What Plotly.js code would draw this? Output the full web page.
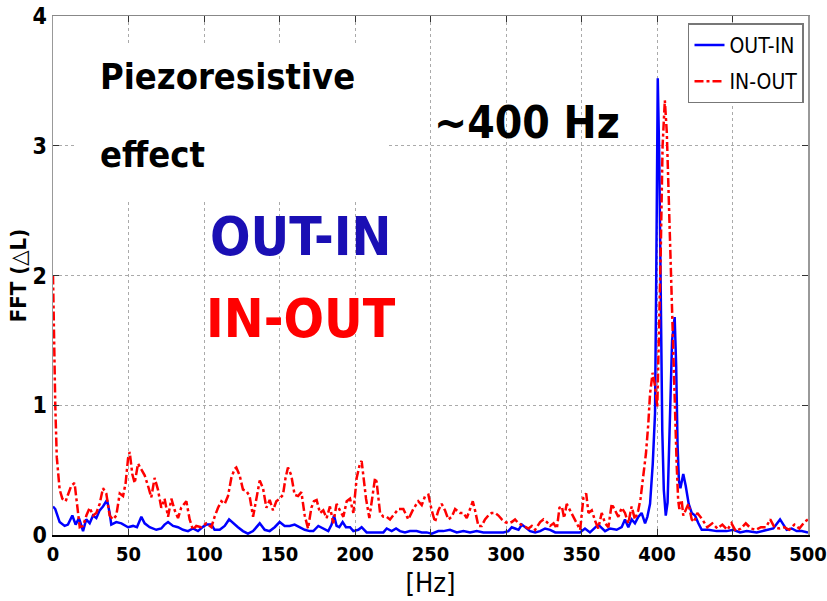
<!DOCTYPE html>
<html>
<head>
<meta charset="utf-8">
<script src="https://cdn.plot.ly/plotly-3.0.1.min.js"></script>
<style>html,body{margin:0;padding:0;background:#fff;}#chart{width:827px;height:601px;}</style>
</head>
<body>
<div id="chart"></div>
<script>
// OUT-IN series (blue solid)
var outInHz = [0,1.5,4.4,7.7,9.9,12.8,15,17.2,19.9,22,24.3,26.5,28.7,30.9,33.1,35.8,37.5,38.6,41.9,45.3,49.7,53,55.6,58.5,60.7,64,68.4,71.7,73.9,76.2,79.5,82.8,86.1,89.4,92.7,96,98.9,101.5,104.9,107,110.4,113.7,116.6,119.2,122.5,125.8,129.1,132.5,136.9,140.2,143.5,146.8,150.1,153.4,156.7,160,163.4,166.7,170,172.4,175.7,179,182.3,184.5,186.1,187.8,189.6,191.8,194,196.7,198.9,202.2,204.4,207.7,212.1,216.6,218.8,221,224.3,227.2,229.8,233.1,236.4,240.8,244.2,247.5,250.8,255.2,258.5,262.9,267.4,271.8,276.2,280.6,285,289.4,293.8,298.3,301.6,303.8,306,308.3,310.5,312.7,316,319.3,322.6,325.9,329.2,332.6,335.9,340.3,344.7,349,352.3,355.6,361.1,365.6,368.9,373.3,376.6,378.8,381,383.2,385.4,387.6,389.8,392.1,393.6,395.4,397.2,398.7,399.5,400.5,401.5,402.5,403.5,404.5,405.8,407,408.5,410,411.7,412.7,413.6,414.5,415.5,417.4,419,421,423,425.2,427.4,429.6,434,439.5,446.1,450.6,455,459.4,466,472.6,477,481.5,483.7,485.9,489.2,492.5,495.8,500];
var outInVal = [0.22,0.20,0.10,0.07,0.08,0.15,0.08,0.13,0.03,0.12,0.09,0.15,0.13,0.19,0.22,0.27,0.17,0.08,0.10,0.09,0.06,0.07,0.06,0.14,0.09,0.06,0.04,0.05,0.08,0.10,0.07,0.06,0.04,0.03,0.05,0.03,0.06,0.08,0.08,0.04,0.04,0.07,0.12,0.09,0.06,0.03,0.01,0.03,0.09,0.04,0.03,0.06,0.10,0.07,0.07,0.08,0.06,0.04,0.03,0.03,0.07,0.05,0.03,0.08,0.15,0.07,0.06,0.10,0.06,0.06,0.03,0.04,0.06,0.02,0.02,0.02,0.02,0.05,0.03,0.05,0.03,0.02,0.03,0.03,0.02,0.02,0.01,0.03,0.03,0.04,0.02,0.03,0.02,0.03,0.02,0.02,0.02,0.02,0.03,0.06,0.05,0.04,0.08,0.06,0.03,0.02,0.03,0.05,0.04,0.02,0.02,0.02,0.02,0.02,0.05,0.02,0.08,0.03,0.05,0.04,0.06,0.12,0.06,0.12,0.09,0.14,0.17,0.09,0.14,0.24,0.55,0.94,2.0,3.52,2.9,1.6,0.8,0.35,0.15,0.25,0.9,1.5,1.68,1.3,0.7,0.42,0.36,0.47,0.38,0.24,0.17,0.15,0.09,0.04,0.04,0.03,0.03,0.04,0.02,0.03,0.02,0.04,0.05,0.12,0.08,0.04,0.05,0.03,0.03,0.02];

// IN-OUT series (red dash-dot)
var inOutHz = [0,0.7,1.5,2.5,4.4,6.2,8.4,9.9,12.1,14.3,15.9,17.7,19.9,22.1,24.3,26.5,28.7,30.9,33.1,35.3,37.5,39.7,41.9,44.2,46.4,48.1,49.7,50.8,52.5,54.1,56.3,58.5,60.7,62.9,65.1,67.3,69.5,71.7,73.9,76.2,78.4,80.6,82.8,84.9,88.3,90.5,92.7,94.9,98.2,101.5,104.9,107,109.3,111.5,113.7,115.9,118.1,120.3,121.4,123.6,125.8,128,130.2,132.5,134.7,136.9,139.1,141.3,143.5,145.7,147.9,150.1,152.3,154,155.6,157.8,160,162.3,164.5,166.7,168.9,171.1,172.8,174.6,176.8,179,181.2,183.4,185.6,187.8,190,192.3,194.5,196.7,198.9,201.1,203.3,204.4,205.5,207.3,209.5,211.1,213.3,214.3,216.6,218.8,221,223.2,225.4,228.7,232,235.3,238.6,241.9,244.2,246.4,248.6,250.8,253,255.2,257.4,259.6,261.8,264.1,266.3,269.6,271.8,274,276.2,278,279.5,281.7,283.9,286.1,288.3,290.5,292.8,295,297.2,299.4,301.6,303.8,306,308.3,311.6,314.9,317.1,319.3,322.6,324.8,327,329.2,331.5,333.7,335.4,337,338.5,340.2,342.4,344.7,346.9,349.1,351.3,353.1,354.6,356.8,359,361.1,363.4,365.6,367.8,370,372.2,374.4,376.6,378.8,381,383.2,385.4,387.6,389.1,390.9,392.7,394.2,395.4,397.1,398.7,400.2,401.5,402.5,403.7,405.2,406.5,407.8,409.2,410.5,412,413,414,414.8,416.3,417.4,420.8,423,424.5,426.7,430,433.3,436.6,440,443.3,446.6,449.3,452.2,455.5,458.8,462.2,465.5,468.8,472.2,475,477.7,481,484.3,487.6,491,494.3,497.6,500];
var inOutVal = [2.0,1.5,1.0,0.6,0.35,0.28,0.26,0.31,0.38,0.40,0.26,0.06,0.07,0.15,0.21,0.15,0.17,0.24,0.36,0.32,0.15,0.12,0.15,0.32,0.30,0.40,0.59,0.64,0.47,0.40,0.55,0.51,0.46,0.38,0.29,0.44,0.35,0.21,0.28,0.14,0.28,0.19,0.13,0.21,0.26,0.12,0.04,0.07,0.06,0.09,0.06,0.14,0.21,0.26,0.24,0.30,0.44,0.51,0.52,0.46,0.35,0.34,0.30,0.14,0.27,0.42,0.36,0.21,0.27,0.19,0.26,0.28,0.31,0.44,0.52,0.46,0.31,0.30,0.33,0.15,0.05,0.21,0.26,0.27,0.17,0.19,0.13,0.22,0.09,0.24,0.19,0.14,0.26,0.28,0.17,0.44,0.55,0.57,0.46,0.28,0.13,0.28,0.44,0.41,0.17,0.14,0.14,0.12,0.15,0.20,0.20,0.12,0.20,0.26,0.23,0.30,0.31,0.19,0.10,0.19,0.24,0.19,0.12,0.14,0.20,0.17,0.17,0.13,0.20,0.26,0.19,0.07,0.07,0.12,0.15,0.17,0.17,0.15,0.12,0.10,0.09,0.10,0.12,0.09,0.07,0.05,0.07,0.04,0.10,0.12,0.10,0.07,0.09,0.05,0.21,0.22,0.13,0.24,0.19,0.14,0.09,0.04,0.29,0.32,0.17,0.19,0.11,0.05,0.17,0.09,0.06,0.24,0.19,0.14,0.21,0.17,0.09,0.22,0.12,0.19,0.28,0.45,0.63,0.85,1.09,1.25,1.15,0.99,1.6,2.2,3.0,3.35,3.1,2.6,2.0,1.4,0.95,0.55,0.27,0.2,0.27,0.15,0.24,0.12,0.10,0.17,0.12,0.06,0.09,0.05,0.08,0.04,0.09,0.03,0.05,0.09,0.05,0.04,0.06,0.06,0.12,0.06,0.05,0.06,0.04,0.08,0.05,0.10,0.12];

var seriesNames = ['OUT-IN', 'IN-OUT'];
var xTicks = [0,50,100,150,200,250,300,350,400,450,500];
var yTicks = [0,1,2,3,4];
var xLabel = '[Hz]';
var yLabel = 'FFT (\u25B3L)';

var narrow = 'Liberation Sans Narrow, DejaVu Sans Condensed, sans-serif';
var xTickFont = {family: narrow, size: 20, color: '#000', weight: 'bold'};
var yTickFont = {family: narrow, size: 23, color: '#000', weight: 'bold'};
var bigFont = 'DejaVu Sans Condensed, DejaVu Sans, sans-serif';

var traces = [
  {x: outInHz, y: outInVal, name: seriesNames[0], legendgroup: 'a', type: 'scatter', mode: 'lines',
   line: {color: '#0000ff', width: 2.5}},
  {x: inOutHz, y: inOutVal, name: seriesNames[1], legendgroup: 'b', type: 'scatter', mode: 'lines',
   line: {color: '#ff0000', width: 2.5, dash: 'dashdot'}},
  {x: [0, 500], y: [null, null], xaxis: 'x2', showlegend: false, hoverinfo: 'skip', mode: 'lines'}
];

var layout = {
  width: 827, height: 601,
  margin: {l: 53, r: 19, t: 16, b: 66, autoexpand: false},
  paper_bgcolor: '#fff', plot_bgcolor: '#fff',
  showlegend: true,
  legend: {x: 0.9947, y: 0.986, xanchor: 'right', yanchor: 'top', bgcolor: '#fff',
           bordercolor: '#777', borderwidth: 1.5, tracegroupgap: 6, traceorder: 'grouped',
           itemwidth: 30,
           font: {family: narrow, size: 21, color: '#000'}},
  xaxis: {range: [0, 500], tickvals: xTicks, ticktext: xTicks.map(String), ticks: 'inside', ticklen: 6,
          tickcolor: '#333', showline: true, linecolor: '#000', linewidth: 2, mirror: false,
          showgrid: true, gridcolor: '#aaa', griddash: 'dot', gridwidth: 1, zeroline: false,
          automargin: true, ticklabeloverflow: 'allow', tickfont: xTickFont,
          title: {text: xLabel, font: {family: narrow, size: 27, color: '#000'}, standoff: 8}},
  xaxis2: {range: [0, 500], overlaying: 'x', side: 'top', tickvals: xTicks, ticks: 'inside', ticklen: 6,
           tickcolor: '#333', showticklabels: false, showline: true, linecolor: '#888', linewidth: 1.5,
           showgrid: false, zeroline: false, automargin: false},
  yaxis: {range: [0, 4], tickvals: yTicks, ticktext: yTicks.map(String), ticks: 'inside', ticklen: 6,
          tickcolor: '#333', showline: true, linecolor: '#999', linewidth: 1.5, mirror: 'ticks',
          showgrid: true, gridcolor: '#aaa', griddash: 'dot', gridwidth: 1, zeroline: false,
          automargin: true, ticklabeloverflow: 'allow', tickfont: yTickFont,
          title: {text: yLabel, font: {family: bigFont, size: 22, color: '#000', weight: 'bold'}, standoff: 0}},
  shapes: [
    {type: 'rect', xref: 'x', yref: 'y', x0: 14.6, x1: 221.9, y0: 2.57, y1: 3.79,
     fillcolor: '#fff', line: {width: 0}, layer: 'between'}
  ],
  annotations: [
    {text: 'Piezoresistive', x: 29.8, y: 3.53, xref: 'x', yref: 'y', xanchor: 'left', yanchor: 'middle', showarrow: false,
     font: {family: bigFont, size: 36, color: '#000', weight: 'bold'}},
    {text: 'effect', x: 29.8, y: 2.93, xref: 'x', yref: 'y', xanchor: 'left', yanchor: 'middle', showarrow: false,
     font: {family: bigFont, size: 36, color: '#000', weight: 'bold'}},
    {text: '~400 Hz', x: 313.6, y: 3.18, xref: 'x', yref: 'y', xanchor: 'center', yanchor: 'middle', showarrow: false,
     font: {family: bigFont, size: 44, color: '#000', weight: 'bold'}},
    {text: 'OUT-IN', x: 163.6, y: 2.30, xref: 'x', yref: 'y', xanchor: 'center', yanchor: 'middle', showarrow: false,
     font: {family: bigFont, size: 53, color: '#1a0fb4', weight: 'bold'}},
    {text: 'IN-OUT', x: 164.2, y: 1.67, xref: 'x', yref: 'y', xanchor: 'center', yanchor: 'middle', showarrow: false,
     font: {family: bigFont, size: 53, color: '#ff0000', weight: 'bold'}}
  ]
};

Plotly.newPlot('chart', traces, layout, {displayModeBar: false, staticPlot: true});
</script>
</body>
</html>
